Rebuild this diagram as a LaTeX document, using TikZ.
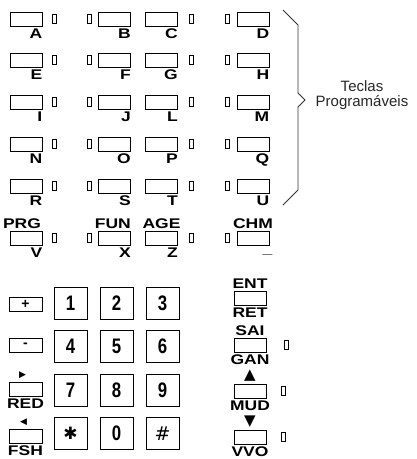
\documentclass[tikz,border=0pt]{standalone}
\usepackage{fontspec}
\setmainfont{Liberation Sans}
\newfontfamily\keyfont[FakeStretch=1.25]{Liberation Sans}
\newfontfamily\digitfont[FakeStretch=0.8]{Liberation Sans}
\newfontfamily\symfont{DejaVu Sans}
\usetikzlibrary{positioning}

\begin{document}
\begin{tikzpicture}[
  x=1pt, y=-1pt,
  skey/.style={rectangle, draw, line width=1pt, minimum width=32pt, minimum height=14pt, inner sep=0pt},
  led/.style={rectangle, draw, line width=1pt, minimum width=4pt, minimum height=9pt, inner sep=0pt},
  numkey/.style={rectangle, draw, line width=1pt, minimum width=33pt, minimum height=32pt, inner sep=0pt, font=\digitfont\bfseries\fontsize{21}{21}\selectfont},
  klabel/.style={font=\keyfont\bfseries\fontsize{14}{14}\selectfont, inner sep=0pt},
  tri/.style={font=\symfont\fontsize{9}{9}\selectfont, inner sep=0pt},
  note/.style={font=\fontsize{15}{15}\selectfont, align=center, inner sep=0pt, text=black!85},
]
\useasboundingbox (0,0) rectangle (417,459);

% soft keys, row 1
\node[skey] (kA) at (26,19) {};    \node[led, right=9pt of kA] (lA) {};
\node[skey] (kB) at (114.5,19) {}; \node[led, left=6pt of kB] (lB) {};
\node[skey] (kC) at (161.5,19) {}; \node[led, right=11pt of kC] (lC) {};
\node[skey] (kD) at (253,19) {};   \node[led, left=7pt of kD] (lD) {};
\node[klabel, below left=2pt and 0pt of kA.south east] (tA) {A};
\node[klabel, below left=2pt and 0pt of kB.south east] (tB) {B};
\node[klabel, below left=2pt and 0pt of kC.south east] (tC) {C};
\node[klabel, below left=2pt and 0pt of kD.south east] (tD) {D};
% row 2
\node[skey] (kE) at (26,60) {};    \node[led, right=9pt of kE] (lE) {};
\node[skey] (kF) at (114.5,60) {}; \node[led, left=6pt of kF] (lF) {};
\node[skey] (kG) at (161.5,60) {}; \node[led, right=11pt of kG] (lG) {};
\node[skey] (kH) at (253,60) {};   \node[led, left=7pt of kH] (lH) {};
\node[klabel, below left=2pt and 0pt of kE.south east] (tE) {E};
\node[klabel, below left=2pt and 0pt of kF.south east] (tF) {F};
\node[klabel, below left=2pt and 0pt of kG.south east] (tG) {G};
\node[klabel, below left=2pt and 0pt of kH.south east] (tH) {H};
% row 3
\node[skey] (kI) at (26,102) {};    \node[led, right=9pt of kI] (lI) {};
\node[skey] (kJ) at (114.5,102) {}; \node[led, left=6pt of kJ] (lJ) {};
\node[skey] (kL) at (161.5,102) {}; \node[led, right=11pt of kL] (lL) {};
\node[skey] (kM) at (253,102) {};   \node[led, left=7pt of kM] (lM) {};
\node[klabel, below left=2pt and 0pt of kI.south east] (tI) {I};
\node[klabel, below left=2pt and 0pt of kJ.south east] (tJ) {J};
\node[klabel, below left=2pt and 0pt of kL.south east] (tL) {L};
\node[klabel, below left=2pt and 0pt of kM.south east] (tM) {M};
% row 4
\node[skey] (kN) at (26,144) {};    \node[led, right=9pt of kN] (lN) {};
\node[skey] (kO) at (114.5,144) {}; \node[led, left=6pt of kO] (lO) {};
\node[skey] (kP) at (161.5,144) {}; \node[led, right=11pt of kP] (lP) {};
\node[skey] (kQ) at (253,144) {};   \node[led, left=7pt of kQ] (lQ) {};
\node[klabel, below left=2pt and 0pt of kN.south east] (tN) {N};
\node[klabel, below left=2pt and 0pt of kO.south east] (tO) {O};
\node[klabel, below left=2pt and 0pt of kP.south east] (tP) {P};
\node[klabel, below left=2pt and 0pt of kQ.south east] (tQ) {Q};
% row 5
\node[skey] (kR) at (26,186) {};    \node[led, right=9pt of kR] (lR) {};
\node[skey] (kS) at (114.5,186) {}; \node[led, left=6pt of kS] (lS) {};
\node[skey] (kT) at (161.5,186) {}; \node[led, right=11pt of kT] (lT) {};
\node[skey] (kU) at (253,186) {};   \node[led, left=7pt of kU] (lU) {};
\node[klabel, below left=2pt and 0pt of kR.south east] (tR) {R};
\node[klabel, below left=2pt and 0pt of kS.south east] (tS) {S};
\node[klabel, below left=2pt and 0pt of kT.south east] (tT) {T};
\node[klabel, below left=2pt and 0pt of kU.south east] (tU) {U};
% row 6 (function keys)
\node[skey] (kV) at (26,238) {};    \node[led, right=9pt of kV] (lV) {};
\node[skey] (kX) at (114.5,238) {}; \node[led, left=6pt of kX] (lX) {};
\node[skey] (kZ) at (161.5,238) {}; \node[led, right=11pt of kZ] (lZ) {};
\node[skey] (kW) at (253,238) {};   \node[led, left=7pt of kW] (lW) {};
\node[klabel, below left=2pt and 0pt of kV.south east] (tV) {V};
\node[klabel, below left=2pt and 0pt of kX.south east] (tX) {X};
\node[klabel, below left=2pt and 0pt of kZ.south east] (tZ) {Z};
\node[klabel, below left=8pt and -3pt of kW.south east] (tW) {\_};
\node[klabel, above=2pt of kV, xshift=-4pt] (prg) {PRG};
\node[klabel, above left=2pt and 0pt of kX.north east] (fun) {FUN};
\node[klabel, above=2pt of kZ] (age) {AGE};
\node[klabel, above=2pt of kW] (chm) {CHM};

% brace and note
\draw[line width=0.9pt, black!80] (283,10) -- (298,25) -- (298,93) -- (305,100)
  -- (298,107) -- (298,190) -- (283,205);
\node[note] (teclas) at (362,95) {Teclas\\Programáveis};

% numeric keypad
\node[numkey] (k1) at (70.5,303) {1};
\node[numkey, right=12pt of k1] (k2) {2};
\node[numkey, right=12pt of k2] (k3) {3};
\node[numkey, below=10.5pt of k1] (k4) {4};
\node[numkey, right=12pt of k4] (k5) {5};
\node[numkey, right=12pt of k5] (k6) {6};
\node[numkey, below=10.5pt of k4] (k7) {7};
\node[numkey, right=12pt of k7] (k8) {8};
\node[numkey, right=12pt of k8] (k9) {9};
\node[numkey, below=10.5pt of k7] (kstar) {\symfont\fontsize{17}{17}\selectfont ✱};
\node[numkey, right=12pt of kstar] (k0) {0};
\node[numkey, right=12pt of k0] (khash) {\symfont\mdseries\fontsize{19}{19}\selectfont \#};

% left column
\node[skey, minimum width=33pt] (kplus) at (25.5,304) {\bfseries\fontsize{14}{14}\selectfont +};
\node[skey, minimum width=33pt] (kminus) at (25.5,345) {\bfseries\fontsize{14}{14}\selectfont -};
\node[skey, minimum width=33pt] (kred) at (25.5,389) {};
\node[tri, above=3pt of kred, xshift=-3pt] (ared) {▶};
\node[klabel, below=2pt of kred] (tred) {RED};
\node[skey, minimum width=33pt] (kfsh) at (25.5,436) {};
\node[tri, above=3pt of kfsh, xshift=-2pt] (afsh) {◀};
\node[klabel, below=2pt of kfsh] (tfsh) {FSH};

% right column
\node[skey] (kent) at (250,298) {};
\node[klabel, above=2pt of kent] (tent) {ENT};
\node[klabel, below=2pt of kent] (tret) {RET};
\node[skey] (ksai) at (250,345) {};
\node[led, right=17pt of ksai] (lsai) {};
\node[klabel, above=2pt of ksai] (tsai) {SAI};
\node[klabel, below=2pt of ksai] (tgan) {GAN};
\node[skey] (kmud) at (250,391) {};
\node[led, right=14pt of kmud] (lmud) {};
\node[tri, above=2pt of kmud, font=\symfont\fontsize{15}{15}\selectfont] (amud) {▲};
\node[klabel, below=2pt of kmud] (tmud) {MUD};
\node[skey] (kvvo) at (250,437) {};
\node[led, right=14pt of kvvo] (lvvo) {};
\node[tri, above=2pt of kvvo, font=\symfont\fontsize{15}{15}\selectfont] (avvo) {▼};
\node[klabel, below=2pt of kvvo] (tvvo) {VVO};
\end{tikzpicture}
\end{document}
